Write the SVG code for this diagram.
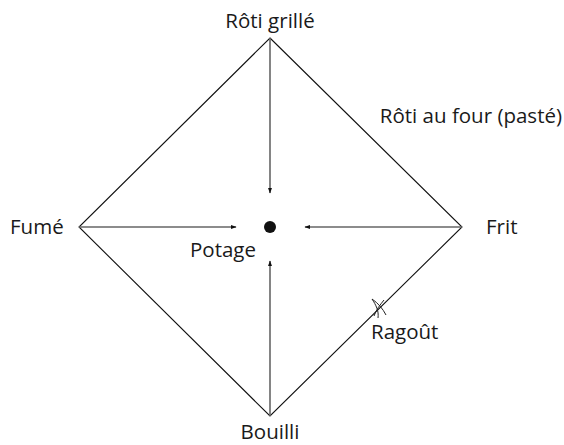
<svg xmlns="http://www.w3.org/2000/svg" width="564" height="445" viewBox="0 0 564 445">
<style>
text{font-family:"Open Sans","Liberation Sans",sans-serif;font-size:20.5px;font-weight:500;fill:#1a1a1a}
.edge{stroke:#111;stroke-width:1.1;fill:none}
.arr{stroke:#666;stroke-width:1.6;fill:none;marker-end:url(#ah)}
</style>
<defs>
<marker id="ah" viewBox="0 0 10 10" refX="9" refY="5" markerWidth="6" markerHeight="6" orient="auto" markerUnits="userSpaceOnUse">
<path d="M0,1.5 L10,5 L0,8.5 Z" fill="#111"/>
</marker>
</defs>
<rect width="564" height="445" fill="#fff"/>
<g id="connectors">
<path class="edge" d="M270,38 L462,227 L270,416 L79,227 Z"/>
<line class="arr" x1="270" y1="38" x2="270" y2="193"/>
<line class="arr" x1="270" y1="416" x2="270" y2="261"/>
<line class="arr" x1="79" y1="227" x2="236" y2="227"/>
<line class="arr" x1="462" y1="227" x2="305" y2="227"/>
</g>
<g id="potage"><circle cx="270" cy="227" r="6" fill="#111"/><text x="223" y="257" text-anchor="middle">Potage</text></g>
<g id="roti-grille"><text x="270" y="28" text-anchor="middle">Rôti grillé</text></g>
<g id="roti-four"><text x="562" y="123" text-anchor="end">Rôti au four (pasté)</text></g>
<g id="fume"><text x="10" y="234">Fumé</text></g>
<g id="frit"><text x="486" y="234">Frit</text></g>
<g id="bouilli"><text x="270" y="439" text-anchor="middle">Bouilli</text></g>
<g id="ragout">
<path d="M372,299 C378,303 383,309 386,315 M372,299 C376,305 379,311 378,318 M384,300 C380,305 376,310 374,316" stroke="#222" stroke-width="1" fill="none"/>
<text x="371" y="339">Ragoût</text>
</g>
</svg>
